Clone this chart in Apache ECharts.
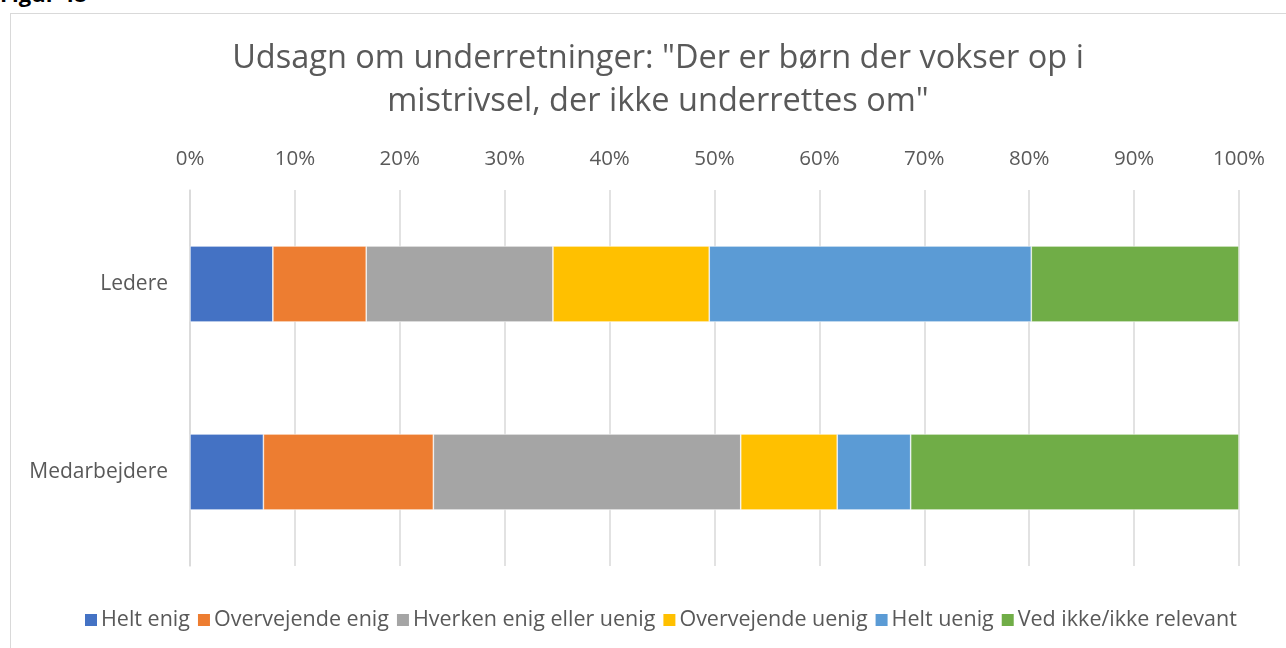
<!DOCTYPE html>
<html>
<head>
<meta charset="utf-8">
<script src="https://cdn.jsdelivr.net/npm/echarts@6/dist/echarts.min.js"></script>
<style>
  html, body { margin: 0; padding: 0; background: #fff; overflow: hidden; }
  #fig { position: absolute; left: 0; top: -22px; font: bold 22px "Open Sans", sans-serif; color: #000; }
  #frame { position: absolute; left: 10px; top: 13px; width: 1300px; height: 660px; border: 1px solid #d9d9d9; box-sizing: border-box; }
  #chart { position: absolute; left: 0; top: 0; width: 1286px; height: 648px; }
</style>
</head>
<body>
<div id="fig">Figur 48</div>
<div id="frame"></div>
<div id="chart"></div>
<script>
// Respondent groups (top to bottom)
const categories = ['Ledere', 'Medarbejdere'];

// Answer options, in stacking order
const answerNames = ['Helt enig', 'Overvejende enig', 'Hverken enig eller uenig', 'Overvejende uenig', 'Helt uenig', 'Ved ikke/ikke relevant'];
const answerColors = ['#4472C4', '#ED7D31', '#A5A5A5', '#FFC000', '#5B9BD5', '#70AD47'];

// Share of answers in percent, [Ledere, Medarbejdere]
const heltEnig         = [7.9, 7.0];
const overvejendeEnig  = [8.9, 16.2];
const hverken          = [17.8, 29.3];
const overvejendeUenig = [14.9, 9.2];
const heltUenig        = [30.7, 7.0];
const vedIkke          = [19.8, 31.3];

const seriesValues = [heltEnig, overvejendeEnig, hverken, overvejendeUenig, heltUenig, vedIkke];

// Tick labels of the value axis
const tickLabels = ['0%', '10%', '20%', '30%', '40%', '50%', '60%', '70%', '80%', '90%', '100%'];

const textColor = '#595959';
const fontFamily = '"Open Sans", "Noto Sans", sans-serif';

const chart = echarts.init(document.getElementById('chart'), null, { renderer: 'canvas' });
chart.setOption({
  animation: false,
  title: {
    text: 'Udsagn om underretninger: "Der er børn der vokser op i\nmistrivsel, der ikke underrettes om"',
    left: 653,
    textAlign: 'center',
    top: 32,
    textStyle: { color: textColor, fontFamily: fontFamily, fontWeight: 'normal', fontSize: 32.5, lineHeight: 43 }
  },
  legend: {
    bottom: 12,
    left: 78,
    itemWidth: 14,
    itemHeight: 14,
    itemGap: 6,
    icon: 'rect',
    textStyle: { color: textColor, fontFamily: fontFamily, fontSize: 21.5, padding: [0, 0, 0, -2] },
    data: answerNames
  },
  grid: { left: 190, right: 47, top: 190, bottom: 82, containLabel: false },
  xAxis: {
    type: 'value',
    position: 'top',
    min: 0,
    max: 100,
    interval: 10,
    axisLine: { show: false },
    axisTick: { show: false },
    splitLine: { show: true, lineStyle: { color: '#d9d9d9', width: 1.5 } },
    axisLabel: {
      color: textColor, fontFamily: fontFamily, fontSize: 20.5, margin: 20,
      formatter: function (v) { return tickLabels[Math.round(v / 10)]; }
    }
  },
  yAxis: {
    type: 'category',
    inverse: true,
    data: categories,
    axisLine: { show: true, lineStyle: { color: '#d9d9d9', width: 1.5 } },
    axisTick: { show: false },
    axisLabel: { color: textColor, fontFamily: fontFamily, fontSize: 21, margin: 22 }
  },
  series: answerNames.map(function (name, i) {
    return {
      name: name,
      type: 'bar',
      stack: 'total',
      barWidth: 76,
      itemStyle: { color: answerColors[i], borderColor: '#ffffff', borderWidth: 0.6 },
      data: seriesValues[i]
    };
  })
});
</script>
</body>
</html>
